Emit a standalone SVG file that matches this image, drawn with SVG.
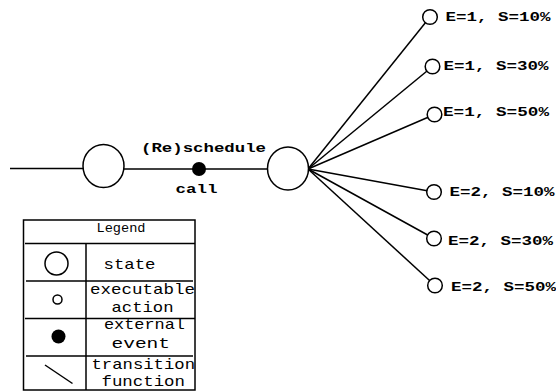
<svg xmlns="http://www.w3.org/2000/svg" width="556" height="392" viewBox="0 0 556 392">
<style>
.ln{stroke:#000;stroke-width:1.5;fill:none}
.st{fill:#fff;stroke:#000;stroke-width:1.5}
.lbl{font-family:"Liberation Mono","DejaVu Sans Mono",monospace;font-weight:bold;font-size:13px;fill:#000}
.lg{font-family:"Liberation Mono","DejaVu Sans Mono",monospace;font-size:15px;fill:#000}
</style>
<rect width="556" height="392" fill="#fff"/>
<g id="connectors">
<line class="ln" x1="10" y1="168.5" x2="84" y2="168.5"/>
<line class="ln" x1="123" y1="169" x2="268" y2="169"/>
<line class="ln" x1="308" y1="169" x2="430" y2="17"/>
<line class="ln" x1="308" y1="169" x2="432.5" y2="66.5"/>
<line class="ln" x1="308" y1="169" x2="434.5" y2="114.5"/>
<line class="ln" x1="308" y1="169" x2="434" y2="192"/>
<line class="ln" x1="308" y1="169" x2="434" y2="238.5"/>
<line class="ln" x1="308" y1="169" x2="435" y2="285.5"/>
</g>
<g id="state1"><ellipse class="st" cx="103.5" cy="166" rx="20.5" ry="21.5"/></g>
<g id="event"><circle cx="199" cy="169" r="7" fill="#000"/>
<text class="lbl" x="141" y="152" textLength="125" lengthAdjust="spacingAndGlyphs">(Re)schedule</text>
<text class="lbl" x="175.5" y="192.5" textLength="42" lengthAdjust="spacingAndGlyphs">call</text></g>
<g id="state2"><ellipse class="st" cx="288" cy="168.5" rx="20.5" ry="21.5"/></g>
<g id="a1"><circle class="st" cx="430" cy="17" r="7.3"/><text class="lbl" x="445.5" y="21" textLength="105" lengthAdjust="spacingAndGlyphs">E=1, S=10%</text></g>
<g id="a2"><circle class="st" cx="432.5" cy="66.5" r="7.3"/><text class="lbl" x="443.5" y="69.5" textLength="105" lengthAdjust="spacingAndGlyphs">E=1, S=30%</text></g>
<g id="a3"><circle class="st" cx="434.5" cy="114.5" r="7.3"/><text class="lbl" x="443" y="115.5" textLength="106" lengthAdjust="spacingAndGlyphs">E=1, S=50%</text></g>
<g id="a4"><circle class="st" cx="434" cy="192" r="7.3"/><text class="lbl" x="449.5" y="195.5" textLength="105" lengthAdjust="spacingAndGlyphs">E=2, S=10%</text></g>
<g id="a5"><circle class="st" cx="434" cy="238.5" r="7.3"/><text class="lbl" x="448" y="244.5" textLength="105" lengthAdjust="spacingAndGlyphs">E=2, S=30%</text></g>
<g id="a6"><circle class="st" cx="435" cy="285.5" r="7.3"/><text class="lbl" x="451" y="291" textLength="105" lengthAdjust="spacingAndGlyphs">E=2, S=50%</text></g>
<g id="legend">
<rect x="23.5" y="220" width="171.5" height="170" fill="#fff" stroke="#000" stroke-width="1.5"/>
<line class="ln" x1="25" y1="243.5" x2="195" y2="243.5"/>
<line class="ln" x1="26" y1="281" x2="193" y2="281"/>
<line class="ln" x1="25" y1="318.5" x2="195" y2="318.5"/>
<line class="ln" x1="26" y1="356" x2="193" y2="356"/>
<line class="ln" x1="86" y1="243.5" x2="86" y2="390"/>
<text class="lg" x="96.5" y="231.5" textLength="49" lengthAdjust="spacingAndGlyphs" style="font-size:12px">Legend</text>
<circle class="st" cx="56.5" cy="263.5" r="11.5"/>
<text class="lg" x="103.5" y="268.5" textLength="52" lengthAdjust="spacingAndGlyphs">state</text>
<circle class="st" cx="57.5" cy="299.5" r="4.5"/>
<text class="lg" x="90" y="293.5" textLength="105" lengthAdjust="spacingAndGlyphs">executable</text>
<text class="lg" x="111.5" y="311.5" textLength="62" lengthAdjust="spacingAndGlyphs">action</text>
<circle cx="58.5" cy="336.5" r="7" fill="#000"/>
<text class="lg" x="104" y="329" textLength="81" lengthAdjust="spacingAndGlyphs">external</text>
<text class="lg" x="111.5" y="347.5" textLength="58.5" lengthAdjust="spacingAndGlyphs">event</text>
<line class="ln" x1="45" y1="365" x2="72.5" y2="383.5"/>
<text class="lg" x="91.5" y="368.5" textLength="103.5" lengthAdjust="spacingAndGlyphs">transition</text>
<text class="lg" x="101.5" y="386" textLength="83.5" lengthAdjust="spacingAndGlyphs">function</text>
</g>
</svg>
